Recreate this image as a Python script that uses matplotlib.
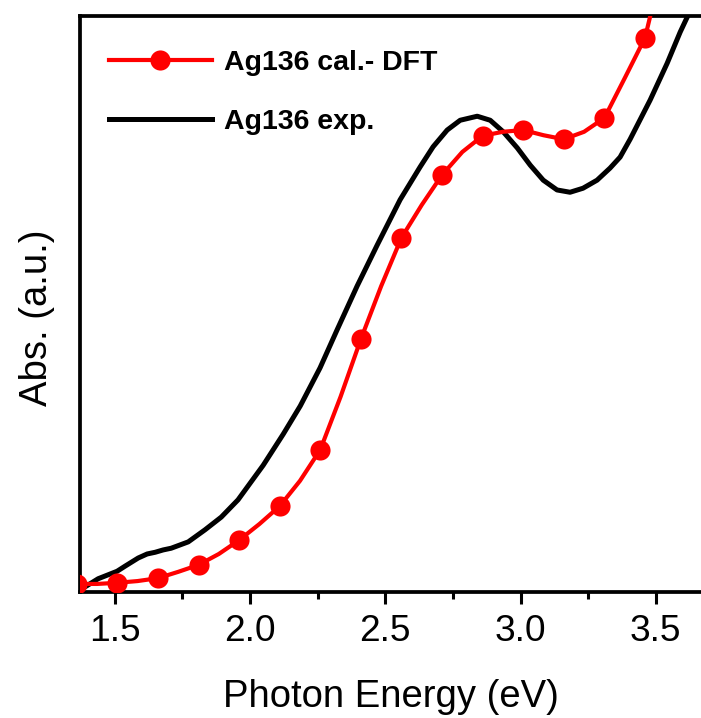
import matplotlib
matplotlib.use("Agg")
import matplotlib.pyplot as plt
from matplotlib.ticker import MultipleLocator

plt.rcParams['font.family'] = ['Liberation Sans', 'DejaVu Sans']

# Calculated (DFT) spectrum: energies (eV) and absorbance (a.u.)
calc_energy = [1.36, 1.435, 1.51, 1.585, 1.66, 1.735, 1.81, 1.885, 1.96, 2.035,
               2.11, 2.185, 2.26, 2.335, 2.41, 2.485, 2.56, 2.635, 2.71, 2.785,
               2.86, 2.935, 3.01, 3.085, 3.16, 3.235, 3.31, 3.385, 3.46, 3.535, 3.61]
calc_abs = [0.014, 0.014, 0.016, 0.019, 0.024, 0.035, 0.047, 0.066, 0.090, 0.118,
            0.149, 0.193, 0.247, 0.339, 0.439, 0.531, 0.615, 0.672, 0.724, 0.764,
            0.792, 0.799, 0.802, 0.793, 0.786, 0.799, 0.823, 0.892, 0.962, 1.108, 1.253]

# Experimental spectrum
exp_energy = [1.376, 1.391, 1.439, 1.509, 1.539, 1.587, 1.620, 1.650, 1.679, 1.709,
              1.772, 1.834, 1.894, 1.956, 2.004, 2.049, 2.123, 2.186, 2.259, 2.322,
              2.396, 2.470, 2.555, 2.629, 2.677, 2.729, 2.777, 2.840, 2.888, 2.936,
              2.988, 3.036, 3.084, 3.135, 3.183, 3.231, 3.283, 3.331, 3.368, 3.405,
              3.479, 3.542, 3.590, 3.616, 3.664]
exp_abs = [0.007, 0.009, 0.023, 0.036, 0.045, 0.059, 0.066, 0.069, 0.073, 0.076,
           0.087, 0.108, 0.130, 0.160, 0.191, 0.220, 0.274, 0.323, 0.389, 0.455,
           0.531, 0.602, 0.681, 0.738, 0.773, 0.802, 0.819, 0.826, 0.819, 0.799,
           0.771, 0.741, 0.715, 0.698, 0.694, 0.701, 0.715, 0.736, 0.755, 0.786,
           0.854, 0.918, 0.972, 0.998, 1.052]

labels = ["Ag136 cal.- DFT", "Ag136 exp."]
xticks = [1.5, 2.0, 2.5, 3.0, 3.5]

fig = plt.figure(figsize=(7.01, 7.18), dpi=100)
ax = fig.add_axes([80/701, 1 - 592/718, 621/701, 576/718])

ax.plot(calc_energy, calc_abs, color='#ff0000', lw=3.0, marker='o', markersize=14.5,
        markevery=2, markeredgewidth=0, label=labels[0], zorder=3,
        solid_joinstyle='round')
ax.plot(exp_energy, exp_abs, color='black', lw=3.6, label=labels[1], zorder=2,
        solid_joinstyle='round')

ax.set_xlim(1.372, 3.667)
ax.set_ylim(0, 1)
ax.set_xticks(xticks)
ax.set_xticklabels([f"{t:.1f}" for t in xticks])
ax.xaxis.set_minor_locator(MultipleLocator(0.25))
ax.tick_params(axis='x', which='major', direction='out', length=8.6, width=2.2,
               labelsize=26.7, pad=7.5)
ax.tick_params(axis='x', which='minor', direction='out', length=5, width=2.2)
ax.tick_params(axis='y', left=False, labelleft=False)

for side in ['left', 'bottom', 'top']:
    ax.spines[side].set_linewidth(2.7)
ax.spines['right'].set_visible(False)

ax.set_xlabel("Photon Energy (eV)", fontsize=27.5, labelpad=21)
ax.set_ylabel("Abs. (a.u.)", fontsize=27.5)
ax.yaxis.set_label_coords(-0.040, 0.476)

leg = ax.legend(loc='upper left', bbox_to_anchor=(0.0468, 0.941), frameon=False,
                handlelength=3.6, handletextpad=0.45, labelspacing=1.17,
                borderpad=0, borderaxespad=0,
                prop={'weight': 'bold', 'size': 20.5, 'family': ['Liberation Sans', 'DejaVu Sans']})

fig.savefig("out.png", dpi=100)
